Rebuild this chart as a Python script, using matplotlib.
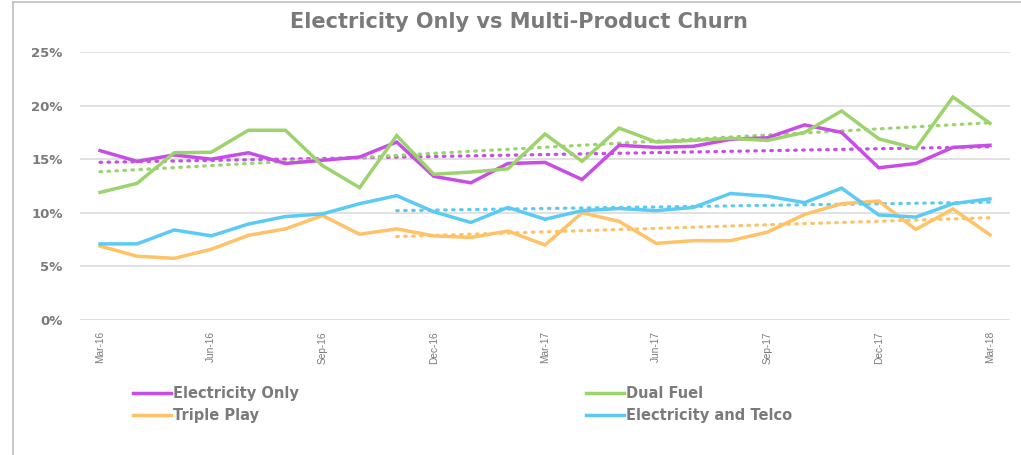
import numpy as np
import matplotlib
matplotlib.use("Agg")
import matplotlib.pyplot as plt
from matplotlib.lines import Line2D

# Monthly churn rates (%), Mar-16 .. Mar-18
months = ["Mar-16", "Apr-16", "May-16", "Jun-16", "Jul-16", "Aug-16", "Sep-16",
          "Oct-16", "Nov-16", "Dec-16", "Jan-17", "Feb-17", "Mar-17", "Apr-17",
          "May-17", "Jun-17", "Jul-17", "Aug-17", "Sep-17", "Oct-17", "Nov-17",
          "Dec-17", "Jan-18", "Feb-18", "Mar-18"]

electricity_only = [15.8, 14.8, 15.4, 15.0, 15.6, 14.6, 14.9, 15.2, 16.6, 13.4,
                    12.8, 14.6, 14.7, 13.1, 16.3, 16.1, 16.2, 16.85, 17.0, 18.2,
                    17.5, 14.2, 14.6, 16.1, 16.3]
dual_fuel = [11.9, 12.75, 15.6, 15.65, 17.7, 17.7, 14.4, 12.35, 17.2, 13.6,
             13.8, 14.1, 17.35, 14.8, 17.9, 16.6, 16.75, 16.95, 16.75, 17.5,
             19.5, 16.9, 16.0, 20.8, 18.35]
triple_play = [6.9, 5.95, 5.75, 6.6, 7.9, 8.5, 9.75, 8.0, 8.5, 7.85,
               7.7, 8.3, 7.0, 10.0, 9.2, 7.15, 7.4, 7.4, 8.2, 9.85,
               10.85, 11.1, 8.45, 10.35, 7.95]
electricity_telco = [7.1, 7.1, 8.4, 7.85, 8.95, 9.65, 9.9, 10.85, 11.6, 10.1,
                     9.1, 10.5, 9.4, 10.2, 10.4, 10.2, 10.5, 11.8, 11.55, 10.95,
                     12.3, 9.8, 9.6, 10.85, 11.3]

series_names = ["Electricity Only", "Dual Fuel", "Triple Play", "Electricity and Telco"]
series_values = [electricity_only, dual_fuel, triple_play, electricity_telco]
# first month included in each series' linear trend
trend_start = [0, 0, 8, 8]
colors = ["#C84CE6", "#9DD36C", "#FFC266", "#5BCBF6"]

text_gray = "#7A7A7A"
bold_font = "DejaVu Sans"

fig = plt.figure(figsize=(10.21, 4.55), dpi=100)
ax = fig.add_axes([80 / 1021, 1 - 320 / 455, 930 / 1021, 268 / 455])

x = np.arange(len(months))
handles = {}
for name, vals, start, col in zip(series_names, series_values, trend_start, colors):
    vals = np.asarray(vals)
    h, = ax.plot(x, vals, color=col, lw=2.5, solid_joinstyle="miter", label=name, zorder=3)
    handles[name] = h
    xs = x[start:]
    coef = np.polyfit(xs, vals[start:], 1)
    ax.plot(xs, np.polyval(coef, xs), color=col, lw=2.3, linestyle=(0, (0.5, 2.0)),
            dash_capstyle="round", zorder=2)

ax.set_xlim(-0.54, len(months) - 1 + 0.54)
ax.set_ylim(0, 25)
ax.set_yticks([0, 5, 10, 15, 20, 25])
ax.set_yticklabels([f"{v}%" for v in [0, 5, 10, 15, 20, 25]],
                   fontfamily=bold_font, fontweight="bold", fontsize=9.5, color=text_gray)
ax.set_xticks(x[::3])
ax.set_xticklabels(months[::3], rotation=90, fontfamily="Liberation Sans",
                   fontsize=7.3, color=text_gray)
ax.tick_params(axis="both", length=0)
ax.tick_params(axis="y", pad=12.5)
ax.tick_params(axis="x", pad=8)
ax.grid(axis="y", color="#D9D9D9", lw=1.1)
ax.set_axisbelow(True)
for s in ax.spines.values():
    s.set_visible(False)

fig.text(0.508, 0.952, "Electricity Only vs Multi-Product Churn", ha="center", va="center",
         fontfamily=bold_font, fontweight="bold", fontsize=15, color=text_gray)

# two columns, filled row by row
order = ["Electricity Only", "Triple Play", "Dual Fuel", "Electricity and Telco"]
leg = fig.legend(handles=[handles[n] for n in order], loc="upper left",
                 bbox_to_anchor=(120 / 1021, 1 - 373 / 455),
                 ncol=2, frameon=False, handlelength=2.6, handletextpad=0.15,
                 columnspacing=19.7, labelspacing=0.45,
                 prop={"family": bold_font, "weight": "bold", "size": 10.5})
for t in leg.get_texts():
    t.set_color(text_gray)

# chart frame edges
fig.add_artist(Line2D([13 / 1021, 13 / 1021], [0, 1 - 2 / 455], color="#BFBFBF", lw=1.2))
fig.add_artist(Line2D([13 / 1021, 1], [1 - 2 / 455, 1 - 2 / 455], color="#BFBFBF", lw=1.2))

fig.savefig("out.png", dpi=100)
